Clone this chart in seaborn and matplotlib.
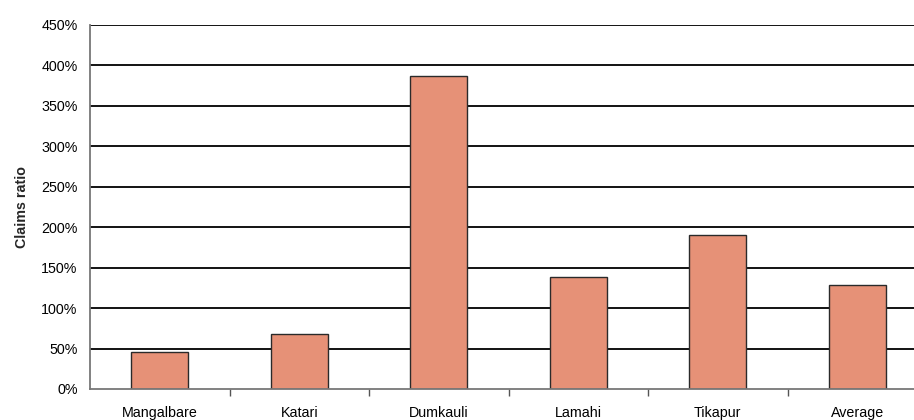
import numpy as np
import pandas as pd
import seaborn as sns
import matplotlib.pyplot as plt
from matplotlib.ticker import FuncFormatter, FixedLocator

# Data
sites = ['Mangalbare', 'Katari', 'Dumkauli', 'Lamahi', 'Tikapur', 'Average']
claims_ratio = [45.5, 67.7, 386.5, 138.2, 190.2, 128.7]

df = pd.DataFrame({'site': sites, 'ratio': claims_ratio})

sns.set_style('white')
plt.rcParams['font.family'] = ['Liberation Sans', 'DejaVu Sans']

fig = plt.figure(figsize=(9.14, 4.2), dpi=100)
ax = fig.add_axes([90 / 914, 31 / 420, 837 / 914, 364 / 420])

sns.barplot(data=df, x='site', y='ratio', color='#E69177', width=0.41,
            edgecolor='#2a2a2a', linewidth=1.0, saturation=1, ax=ax, zorder=3)

ax.set_ylim(0, 450)
ax.set_xlim(-0.5, 5.5)
ax.set_yticks(np.arange(0, 451, 50))
ax.yaxis.set_major_formatter(FuncFormatter(lambda v, p: f'{v:.0f}%'))

# horizontal gridlines
for v in range(50, 451, 50):
    ax.axhline(v, color='black', linewidth=1.3, zorder=1)

# category separators on x axis
ax.xaxis.set_minor_locator(FixedLocator(np.arange(0.5, 5.5, 1)))
ax.tick_params(axis='x', which='major', length=0, pad=12, labelsize=10.3, colors='black')
ax.tick_params(axis='x', which='minor', length=5, width=1, color='#555555', direction='out')
ax.tick_params(axis='y', which='major', length=5, width=1, color='#555555',
               direction='out', labelsize=10.3, pad=4, labelcolor='black')
ax.tick_params(axis='x', which='both', bottom=True)

ax.set_xlabel('')
ax.set_ylabel('Claims ratio', fontsize=10.3, fontweight='bold', labelpad=9)

for side in ['top', 'right']:
    ax.spines[side].set_visible(False)
for side in ['left', 'bottom']:
    ax.spines[side].set_color('#777777')
    ax.spines[side].set_linewidth(1.3)
    ax.spines[side].set_zorder(4)

fig.savefig('out.png', dpi=100)
